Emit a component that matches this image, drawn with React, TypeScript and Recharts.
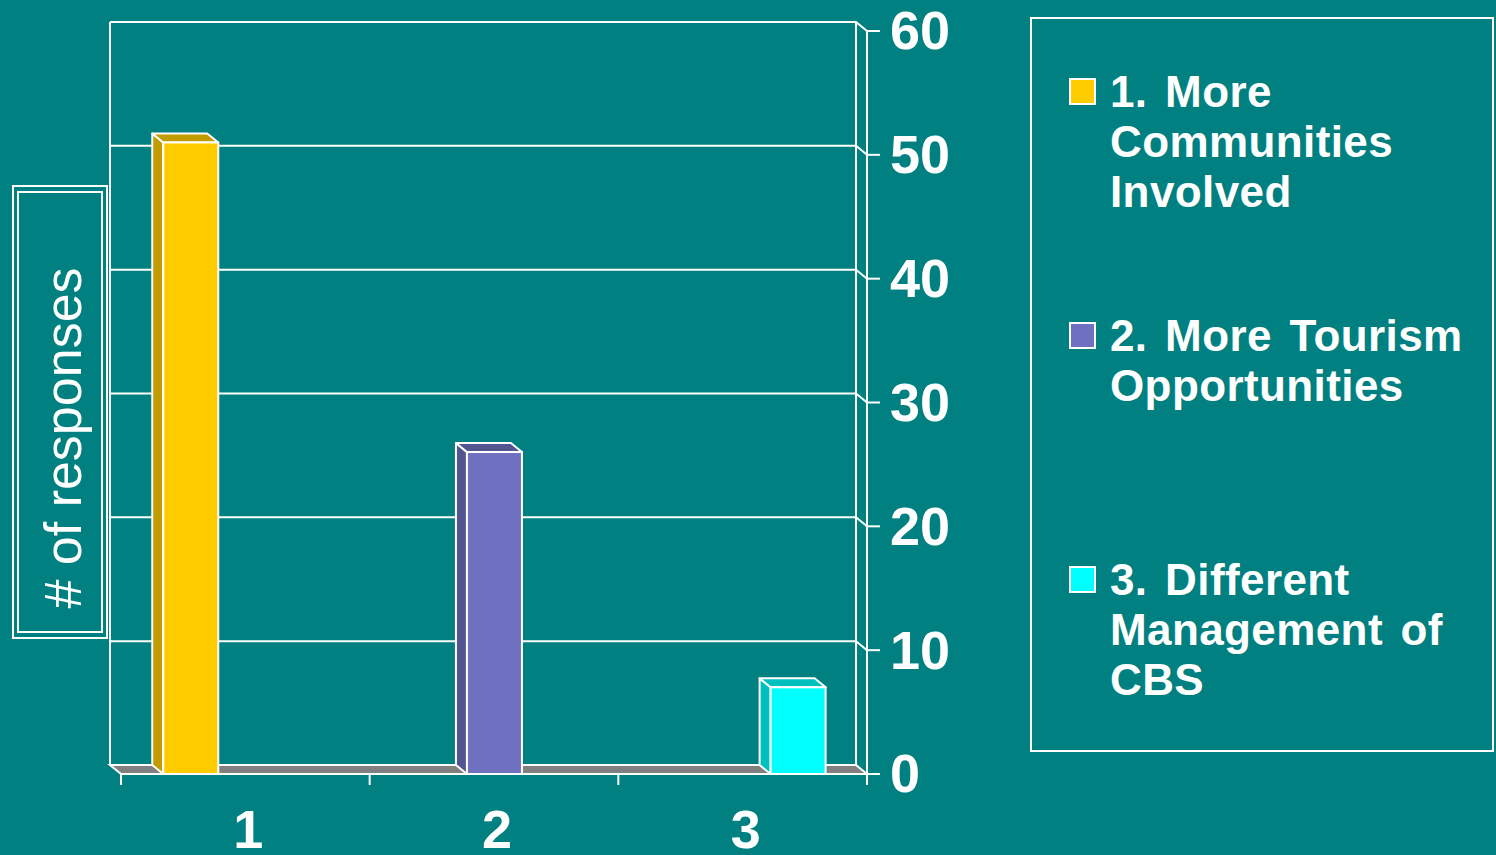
import React from "react";
import { BarChart, Bar, XAxis, YAxis, CartesianGrid, Legend } from "recharts";

const categories = ["1", "2", "3"];
const moreCommunities = [51, null, null];
const moreTourism = [null, 26, null];
const differentManagement = [null, null, 7];
const yTicks = [0, 10, 20, 30, 40, 50, 60];

const legendLines = [
    ["1. More", "Communities", "Involved"],
    ["2. More Tourism", "Opportunities"],
    ["3. Different", "Management of", "CBS"],
];
const frontColors = ["#ffcc00", "#7070c0", "#00ffff"];
const shadeColors = ["#c29b00", "#545491", "#00bfbf"];

const BG = "#008080";
const FONT = "'Liberation Sans', Arial, sans-serif";
// depth offset of the 3D walls / boxes (goes up-left)
const DX = -11;
const DY = -9;

const data = categories.map((c, i) => ({
    cat: c,
    s1: moreCommunities[i],
    s2: moreTourism[i],
    s3: differentManagement[i],
}));

function Box3D(props: any) {
    const { x, y, width: w, height: h, fill, shade } = props;
    if (h == null || h <= 0) return null;
    return (
        <g>
            <polygon
                points={`${x},${y} ${x + DX},${y + DY} ${x + DX},${y + h + DY} ${x},${y + h}`}
                fill={shade}
                stroke="#fff"
                strokeWidth={2}
                strokeLinejoin="round"
            />
            <polygon
                points={`${x},${y} ${x + DX},${y + DY} ${x + w + DX},${y + DY} ${x + w},${y}`}
                fill={shade}
                stroke="#fff"
                strokeWidth={2}
                strokeLinejoin="round"
            />
            <rect x={x} y={y} width={w} height={h} fill={fill} stroke="#fff" strokeWidth={2} />
        </g>
    );
}

function gridRow(props: any) {
    const { x1, x2, y1, index } = props;
    const isFloor = props.height != null && props.y != null ? Math.abs(y1 - (props.y + props.height)) < 1 : index === 0;
    if (isFloor) {
        return (
            <polygon
                key={`row-${index}`}
                points={`${x1},${y1} ${x2},${y1} ${x2 + DX},${y1 + DY} ${x1 + DX},${y1 + DY}`}
                fill="#808080"
                stroke="#fff"
                strokeWidth={2}
            />
        );
    }
    return (
        <polyline
            key={`row-${index}`}
            points={`${x1 + DX},${y1 + DY} ${x2 + DX},${y1 + DY} ${x2},${y1}`}
            fill="none"
            stroke="#fff"
            strokeWidth={2}
        />
    );
}

function wallEdge(props: any) {
    const { x1, y1, y2, index } = props;
    return (
        <line key={`edge-${index}`} x1={x1 + DX} y1={y1 + DY} x2={x1 + DX} y2={y2 + DY} stroke="#fff" strokeWidth={2} />
    );
}

function XTick(props: any) {
    const { x, y, payload, width, visibleTicksCount, index } = props;
    const n = visibleTicksCount || categories.length;
    const half = width / n / 2;
    return (
        <g>
            <line x1={x - half} y1={y} x2={x - half} y2={y + 11} stroke="#fff" strokeWidth={2} />
            {index === n - 1 && <line x1={x + half} y1={y} x2={x + half} y2={y + 11} stroke="#fff" strokeWidth={2} />}
            <text x={x + 3} y={y + 74} textAnchor="middle" fill="#fff" fontSize={54} fontWeight="bold" fontFamily={FONT}>
                {payload.value}
            </text>
        </g>
    );
}

function YTick(props: any) {
    const { x, y, payload } = props;
    return (
        <text x={x - 2} y={y} dy="0.34em" textAnchor="start" fill="#fff" fontSize={54} fontWeight="bold" fontFamily={FONT}>
            {payload.value}
        </text>
    );
}

function LegendBox(props: any) {
    const payload = props.payload || [];
    return (
        <div
            style={{
                boxSizing: "border-box",
                width: 464,
                height: 735,
                border: "2px solid #fff",
                paddingTop: 48,
            }}
        >
            {payload.map((p: any, i: number) => (
                <div key={i} style={{ display: "flex", height: 244 }}>
                    <div
                        style={{
                            width: 27,
                            height: 27,
                            boxSizing: "border-box",
                            border: "2px solid #fff",
                            background: p.color,
                            marginLeft: 37,
                            marginTop: 11,
                            flexShrink: 0,
                        }}
                    />
                    <div
                        style={{
                            marginLeft: 14,
                            color: "#fff",
                            font: `bold 44px/50px ${FONT}`,
                            letterSpacing: 0.4,
                            wordSpacing: 5,
                            whiteSpace: "nowrap",
                        }}
                    >
                        {legendLines[i].map((l) => (
                            <div key={l}>{l}</div>
                        ))}
                    </div>
                </div>
            ))}
        </div>
    );
}

export default function App() {
    return (
        <div style={{ position: "absolute", left: 0, top: 0, width: 1496, height: 855, background: BG, overflow: "hidden" }}>
            <BarChart
                width={1496}
                height={855}
                data={data}
                margin={{ top: 31, right: 529, bottom: 0, left: 121 }}
                barCategoryGap="17%"
                barGap={0}
            >
                <CartesianGrid
                    horizontal={gridRow}
                    vertical={wallEdge}
                    verticalCoordinatesGenerator={({ offset }: any) => [offset.left, offset.left + offset.width]}
                    stroke="#fff"
                />
                <XAxis
                    dataKey="cat"
                    height={81}
                    interval={0}
                    axisLine={{ stroke: "#fff", strokeWidth: 2 }}
                    tickLine={false}
                    tickSize={0}
                    tickMargin={0}
                    tick={<XTick />}
                />
                <YAxis
                    orientation="right"
                    type="number"
                    domain={[0, 60]}
                    ticks={yTicks}
                    interval={0}
                    width={100}
                    axisLine={{ stroke: "#fff", strokeWidth: 2 }}
                    tickLine={{ stroke: "#fff", strokeWidth: 2 }}
                    tickSize={13}
                    tickMargin={12}
                    tick={<YTick />}
                />
                <Legend
                    layout="vertical"
                    align="center"
                    verticalAlign="middle"
                    content={<LegendBox />}
                    wrapperStyle={{ position: "absolute", left: 1030, top: 17, width: 464, height: 735 }}
                />
                {["s1", "s2", "s3"].map((k, i) => (
                    <Bar
                        key={k}
                        dataKey={k}
                        name={legendLines[i].join(" ")}
                        fill={frontColors[i]}
                        isAnimationActive={false}
                        shape={(p: any) => <Box3D {...p} shade={shadeColors[i]} />}
                    />
                ))}
            </BarChart>
            <svg width={120} height={660} style={{ position: "absolute", left: 0, top: 0 }}>
                <rect x={13} y={186} width={94} height={452} fill="none" stroke="#fff" strokeWidth={2} />
                <rect x={18} y={192} width={84} height={440} fill="none" stroke="#fff" strokeWidth={2} />
                <text
                    transform="translate(81,438) rotate(-90)"
                    textAnchor="middle"
                    fill="#fff"
                    fontSize={52}
                    fontFamily={FONT}
                >
                    # of responses
                </text>
            </svg>
        </div>
    );
}
